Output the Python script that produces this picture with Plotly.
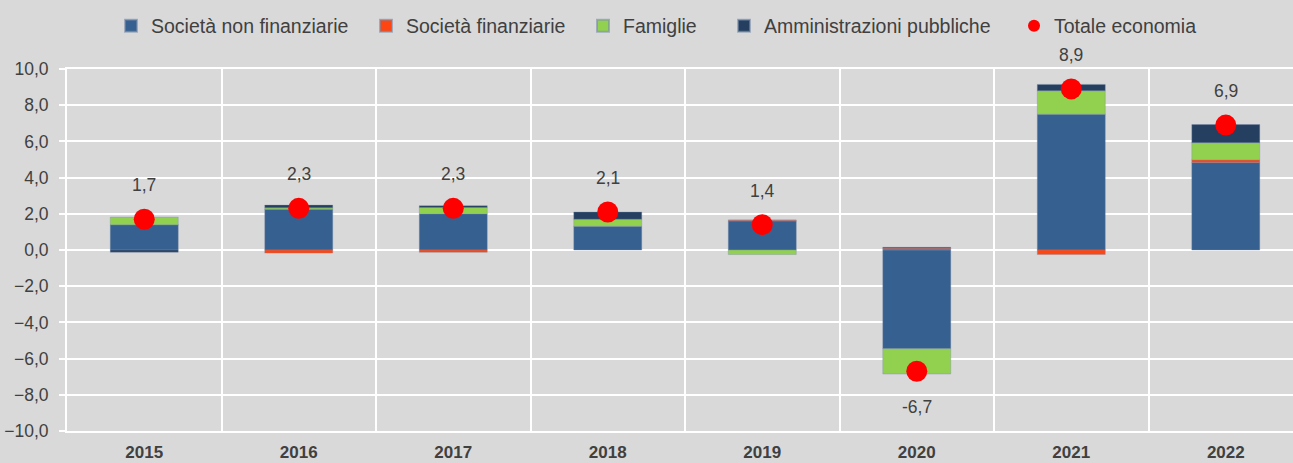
import plotly.graph_objects as go

years = ["2015", "2016", "2017", "2018", "2019", "2020", "2021", "2022"]
snf = [1.40, 2.25, 2.00, 1.31, 1.60, -5.45, 7.50, 4.83]
sf = [0.00, -0.17, -0.13, 0.00, 0.05, 0.10, -0.25, 0.15]
fam = [0.42, 0.08, 0.35, 0.39, -0.25, -1.40, 1.30, 0.95]
ap = [-0.12, 0.15, 0.10, 0.40, 0.00, 0.05, 0.35, 1.00]
totale = [1.7, 2.3, 2.3, 2.1, 1.4, -6.7, 8.9, 6.9]

names = ["Società non finanziarie", "Società finanziarie", "Famiglie", "Amministrazioni pubbliche"]
colors = ["#36608F", "#FF4511", "#92D050", "#243F60"]
series = [snf, sf, fam, ap]
legend_widths = [210, 172, 96, 245]

FONT = "Liberation Sans, Arial, sans-serif"
TXT = "#404040"

fig = go.Figure()
for nm, col, vals, lw in zip(names, colors, series, legend_widths):
    fig.add_trace(go.Bar(
        x=years, y=vals, name=nm, marker_color=col,
        marker_line=dict(color="rgba(120,140,170,0.6)", width=0.6),
        width=0.44, legendwidth=lw,
    ))

fig.add_trace(go.Scatter(
    x=years, y=totale, name="Totale economia", mode="markers",
    marker=dict(color="#FF0000", size=21),
))

for i, v in enumerate(totale):
    fig.add_annotation(
        x=i, y=v, xref="x", yref="y",
        text=f"{v:.1f}".replace(".", ","), showarrow=False,
        yanchor="middle", xanchor="center",
        yshift=34 if v >= 0 else -36,
        font=dict(family=FONT, size=17.5, color=TXT),
    )

fig.update_layout(
    width=1293, height=463,
    margin=dict(l=67, r=0, t=69, b=32, autoexpand=False),
    paper_bgcolor="#D9D9D9", plot_bgcolor="#D9D9D9",
    barmode="relative",
    separators=",.",
    font=dict(family=FONT, color=TXT),
    showlegend=True,
    legend=dict(
        orientation="h", x=0.0359, xanchor="left",
        yref="container", y=1 - 26 / 463, yanchor="middle",
        font=dict(family=FONT, size=19.5, color=TXT),
        itemsizing="constant", bgcolor="rgba(0,0,0,0)",
        traceorder="normal", entrywidthmode="pixels",
    ),
    xaxis=dict(
        type="category", range=[-0.5, 7.435], automargin=False,
        tickson="boundaries", showgrid=True, gridcolor="white", gridwidth=2,
        ticks="", showline=True, linecolor="white", linewidth=2, mirror=True,
        tickfont=dict(family=FONT, size=17, color=TXT, weight="bold"),
        ticklabelstandoff=5,
        zeroline=False,
    ),
    yaxis=dict(
        range=[-10, 10], dtick=2, tick0=0, tickformat=".1f", automargin=False,
        showgrid=True, gridcolor="white", gridwidth=2,
        zeroline=True, zerolinecolor="white", zerolinewidth=2,
        showline=True, linecolor="white", linewidth=2,
        ticks="outside", ticklen=6, tickcolor="white", tickwidth=2,
        tickfont=dict(family=FONT, size=17.5, color=TXT),
        ticklabelstandoff=7,
    ),
)

fig.write_html("out.html")
